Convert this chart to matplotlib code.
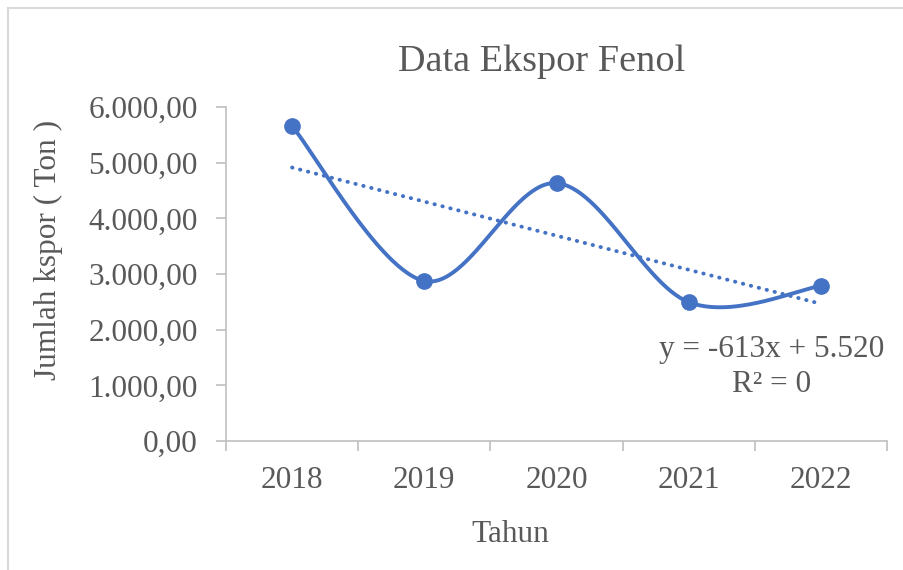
import numpy as np
import matplotlib
matplotlib.use("Agg")
import matplotlib.pyplot as plt
from matplotlib.lines import Line2D
from matplotlib.ticker import FuncFormatter

years = ["2018", "2019", "2020", "2021", "2022"]
values = [5655, 2875, 4632, 2495, 2785]
y_ticks = [0, 1000, 2000, 3000, 4000, 5000, 6000]
title = "Data Ekspor Fenol"
xlabel = "Tahun"
ylabel = "Jumlah kspor ( Ton )"
eq_text = "y = -613x + 5.520"
r2_text = "R² = 0"

W, H = 904, 570
plt.rcParams['font.family'] = ['Liberation Serif', 'DejaVu Serif']
txt_col = '#595959'
line_col = '#4472C4'
axis_col = '#BFBFBF'

fig = plt.figure(figsize=(W / 100, H / 100), dpi=100)
L, R, T, B = 226, 887, 107, 441
ax = fig.add_axes([L / W, 1 - B / H, (R - L) / W, (B - T) / H])

x = np.arange(len(values))
y = np.array(values, dtype=float)

# Excel-style smoothed curve (Catmull-Rom -> cubic Bezier)
P = np.column_stack([x, y]).astype(float)
Pext = np.vstack([P[0], P, P[-1]])
curve = []
t = np.linspace(0, 1, 60)
for i in range(len(P) - 1):
    p0, p1, p2, p3 = Pext[i], Pext[i + 1], Pext[i + 2], Pext[i + 3]
    c1 = p1 + (p2 - p0) / 6
    c2 = p2 - (p3 - p1) / 6
    seg = ((1 - t)[:, None] ** 3 * p1 + 3 * ((1 - t) ** 2 * t)[:, None] * c1
           + 3 * ((1 - t) * t ** 2)[:, None] * c2 + (t ** 3)[:, None] * p2)
    curve.append(seg)
curve = np.vstack(curve)
ax.plot(curve[:, 0], curve[:, 1], color=line_col, lw=2.8, solid_capstyle='round', zorder=3)
ax.plot(x, y, 'o', color=line_col, ms=11, zorder=4)

# linear trendline
slope, intercept = np.polyfit(x + 1, y, 1)
ax.plot(x, slope * (x + 1) + intercept, color=line_col, lw=2.8,
        linestyle=(0, (0.1, 2.0)), dash_capstyle='round', zorder=2)

ax.set_xlim(-0.5, len(values) - 0.5)
ax.set_ylim(0, 6000)
ax.set_yticks(y_ticks)
ax.yaxis.set_major_formatter(FuncFormatter(
    lambda v, p: f"{v:,.2f}".replace(",", "X").replace(".", ",").replace("X", ".")))
ax.set_xticks(np.arange(-0.5, len(values), 1.0))
ax.set_xticklabels([])
ax.set_xticks(x, minor=True)
ax.set_xticklabels(years, minor=True)
ax.tick_params(axis='x', which='major', length=7.5, color=axis_col, width=1.2)
ax.tick_params(axis='x', which='minor', length=0, pad=18, labelsize=22.5, labelcolor=txt_col)
ax.tick_params(axis='y', length=7.5, color=axis_col, width=1.2, pad=13,
               labelsize=22.5, labelcolor=txt_col)
for s in ['top', 'right']:
    ax.spines[s].set_visible(False)
for s in ['left', 'bottom']:
    ax.spines[s].set_color(axis_col)
    ax.spines[s].set_linewidth(1.2)

fig.text(542 / W, 1 - 62 / H, title, ha='center', va='center', fontsize=27.5, color=txt_col)
fig.text(510 / W, 1 - 535 / H, xlabel, ha='center', va='center', fontsize=22.5, color=txt_col)
fig.text(48 / W, 1 - 250 / H, ylabel, ha='center', va='center', rotation=90,
         fontsize=22.5, color=txt_col)
fig.text(772 / W, 1 - 350 / H, eq_text, ha='center', va='center', fontsize=22.5, color=txt_col)
fig.text(772 / W, 1 - 384 / H, r2_text, ha='center', va='center', fontsize=22.5, color=txt_col)

# chart border (only left and top visible in crop)
bx, by = 8 / W, 1 - 8 / H
fig.add_artist(Line2D([bx, bx], [0, by], color='#D9D9D9', lw=1.5, transform=fig.transFigure))
fig.add_artist(Line2D([bx, 1], [by, by], color='#D9D9D9', lw=1.5, transform=fig.transFigure))

fig.savefig("out.png", dpi=100, facecolor='white')
